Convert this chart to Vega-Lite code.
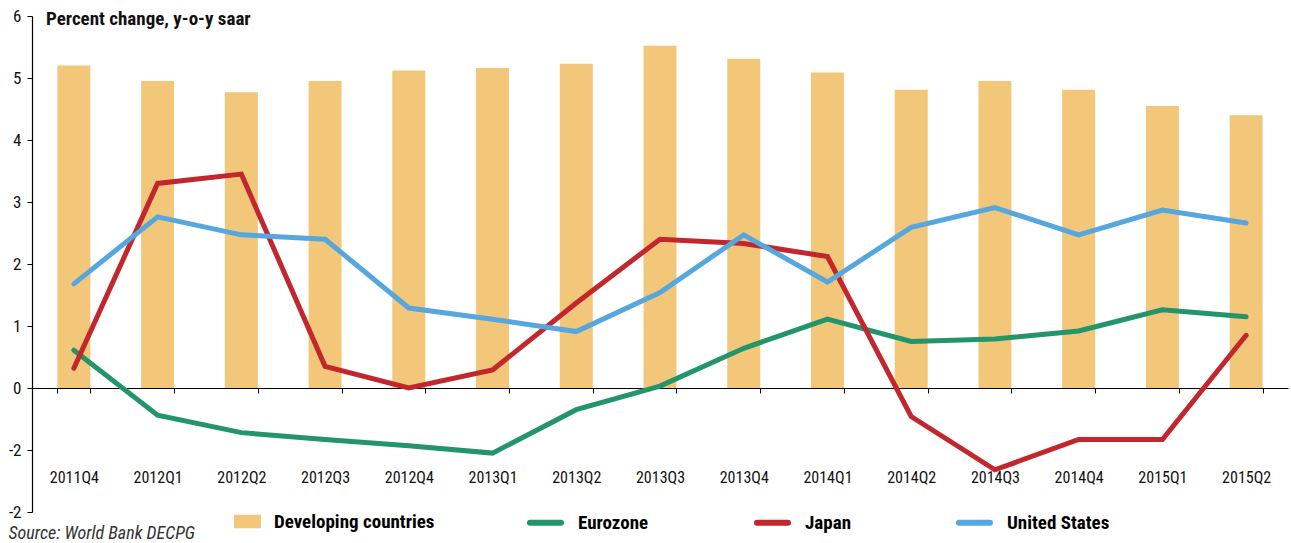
{
  "$schema": "https://vega.github.io/schema/vega-lite/v6.json",
  "autosize": {"type": "none"},
  "width": 1256,
  "height": 496,
  "padding": {"left": 32, "top": 16, "right": 3, "bottom": 31},
  "background": "white",
  "config": {
    "font": "Roboto Condensed, DejaVu Sans Condensed, Open Sans Condensed, Noto Sans Condensed, Roboto, sans-serif",
    "view": {"stroke": null}
  },
  "title": {
    "text": "Percent change, y-o-y saar",
    "anchor": "start",
    "frame": "group",
    "orient": "top",
    "offset": -37,
    "baseline": "alphabetic",
    "dx": 14,
    "fontSize": 19,
    "fontWeight": "bold",
    "color": "#111111"
  },
  "datasets": {
    "bars": [
      {"q": "2011Q4", "series": "Developing countries", "value": 5.20},
      {"q": "2012Q1", "series": "Developing countries", "value": 4.95},
      {"q": "2012Q2", "series": "Developing countries", "value": 4.77},
      {"q": "2012Q3", "series": "Developing countries", "value": 4.95},
      {"q": "2012Q4", "series": "Developing countries", "value": 5.12},
      {"q": "2013Q1", "series": "Developing countries", "value": 5.16},
      {"q": "2013Q2", "series": "Developing countries", "value": 5.23},
      {"q": "2013Q3", "series": "Developing countries", "value": 5.52},
      {"q": "2013Q4", "series": "Developing countries", "value": 5.31},
      {"q": "2014Q1", "series": "Developing countries", "value": 5.09},
      {"q": "2014Q2", "series": "Developing countries", "value": 4.81},
      {"q": "2014Q3", "series": "Developing countries", "value": 4.95},
      {"q": "2014Q4", "series": "Developing countries", "value": 4.81},
      {"q": "2015Q1", "series": "Developing countries", "value": 4.55},
      {"q": "2015Q2", "series": "Developing countries", "value": 4.40}
    ],
    "lines": [
      {"q": "2011Q4", "series": "Eurozone", "value": 0.61},
      {"q": "2012Q1", "series": "Eurozone", "value": -0.44},
      {"q": "2012Q2", "series": "Eurozone", "value": -0.72},
      {"q": "2012Q3", "series": "Eurozone", "value": -0.83},
      {"q": "2012Q4", "series": "Eurozone", "value": -0.93},
      {"q": "2013Q1", "series": "Eurozone", "value": -1.05},
      {"q": "2013Q2", "series": "Eurozone", "value": -0.35},
      {"q": "2013Q3", "series": "Eurozone", "value": 0.03},
      {"q": "2013Q4", "series": "Eurozone", "value": 0.64},
      {"q": "2014Q1", "series": "Eurozone", "value": 1.11},
      {"q": "2014Q2", "series": "Eurozone", "value": 0.75},
      {"q": "2014Q3", "series": "Eurozone", "value": 0.79},
      {"q": "2014Q4", "series": "Eurozone", "value": 0.92},
      {"q": "2015Q1", "series": "Eurozone", "value": 1.26},
      {"q": "2015Q2", "series": "Eurozone", "value": 1.15},
      {"q": "2011Q4", "series": "Japan", "value": 0.32},
      {"q": "2012Q1", "series": "Japan", "value": 3.30},
      {"q": "2012Q2", "series": "Japan", "value": 3.45},
      {"q": "2012Q3", "series": "Japan", "value": 0.35},
      {"q": "2012Q4", "series": "Japan", "value": 0.0},
      {"q": "2013Q1", "series": "Japan", "value": 0.29},
      {"q": "2013Q2", "series": "Japan", "value": 1.37},
      {"q": "2013Q3", "series": "Japan", "value": 2.40},
      {"q": "2013Q4", "series": "Japan", "value": 2.33},
      {"q": "2014Q1", "series": "Japan", "value": 2.12},
      {"q": "2014Q2", "series": "Japan", "value": -0.46},
      {"q": "2014Q3", "series": "Japan", "value": -1.32},
      {"q": "2014Q4", "series": "Japan", "value": -0.83},
      {"q": "2015Q1", "series": "Japan", "value": -0.83},
      {"q": "2015Q2", "series": "Japan", "value": 0.85},
      {"q": "2011Q4", "series": "United States", "value": 1.68},
      {"q": "2012Q1", "series": "United States", "value": 2.76},
      {"q": "2012Q2", "series": "United States", "value": 2.47},
      {"q": "2012Q3", "series": "United States", "value": 2.40},
      {"q": "2012Q4", "series": "United States", "value": 1.29},
      {"q": "2013Q1", "series": "United States", "value": 1.11},
      {"q": "2013Q2", "series": "United States", "value": 0.91},
      {"q": "2013Q3", "series": "United States", "value": 1.54},
      {"q": "2013Q4", "series": "United States", "value": 2.47},
      {"q": "2014Q1", "series": "United States", "value": 1.71},
      {"q": "2014Q2", "series": "United States", "value": 2.59},
      {"q": "2014Q3", "series": "United States", "value": 2.91},
      {"q": "2014Q4", "series": "United States", "value": 2.47},
      {"q": "2015Q1", "series": "United States", "value": 2.87},
      {"q": "2015Q2", "series": "United States", "value": 2.66}
    ]
  },
  "encoding": {
    "x": {
      "field": "q",
      "type": "ordinal",
      "scale": {"paddingInner": 0.606, "paddingOuter": 0.303},
      "axis": {
        "orient": "bottom",
        "offset": -124,
        "domainColor": "#000000",
        "domainWidth": 1.2,
        "ticks": true,
        "tickBand": "extent",
        "tickColor": "#000000",
        "tickSize": 5,
        "tickWidth": 1,
        "labelAngle": 0,
        "labelPadding": 76,
        "labelFontSize": 16,
        "labelColor": "#111111",
        "grid": false,
        "title": "Source: World Bank DECPG",
        "titleX": -24,
        "titleY": 150,
        "titleAlign": "left",
        "titleAnchor": "start",
        "titleBaseline": "alphabetic",
        "titleFontStyle": "italic",
        "titleFontWeight": "normal",
        "titleFontSize": 18,
        "titleColor": "#333333"
      }
    },
    "y": {
      "field": "value",
      "type": "quantitative",
      "scale": {"domain": [-2, 6], "nice": false, "zero": false},
      "axis": {
        "values": [-2, -1, 0, 1, 2, 3, 4, 5, 6],
        "labelExpr": "datum.value < 0 ? '-2' : datum.label",
        "domainColor": "#000000",
        "domainWidth": 1.2,
        "tickColor": "#000000",
        "tickSize": 5,
        "labelPadding": 6,
        "labelFontSize": 17,
        "labelColor": "#111111",
        "grid": false,
        "title": null
      }
    }
  },
  "layer": [
    {
      "data": {"name": "bars"},
      "mark": {"type": "bar"},
      "encoding": {
        "fill": {
          "field": "series",
          "type": "nominal",
          "scale": {"domain": ["Developing countries"], "range": ["#F2C779"]},
          "legend": {
            "orient": "none",
            "legendX": 202,
            "legendY": 492,
            "title": null,
            "symbolType": "M-1,-0.5H1V0.5H-1Z",
            "symbolSize": 729,
            "labelFontSize": 19,
            "labelFontWeight": "bold",
            "labelColor": "#000000",
            "labelOffset": 13,
            "labelLimit": 400,
            "padding": 0,
            "symbolOpacity": 1,
            "symbolStrokeWidth": 0,
            "encode": {"symbols": {"update": {"fill": {"value": "#FDE8BA"}}}}
          }
        }
      }
    },
    {
      "data": {"name": "lines"},
      "mark": {"type": "line", "strokeWidth": 5, "strokeCap": "round", "strokeJoin": "miter"},
      "encoding": {
        "stroke": {
          "field": "series",
          "type": "nominal",
          "scale": {"domain": ["Eurozone", "Japan", "United States"], "range": ["#22956B", "#C1272D", "#56A7DE"]},
          "legend": {
            "orient": "none",
            "legendX": 495,
            "legendY": 488,
            "direction": "horizontal",
            "title": null,
            "symbolType": "stroke",
            "symbolSize": 961,
            "symbolStrokeWidth": 6,
            "labelFontSize": 19,
            "labelFontWeight": "bold",
            "labelColor": "#000000",
            "labelOffset": 14,
            "labelLimit": 400,
            "columnPadding": 96,
            "padding": 0,
            "encode": {"symbols": {"update": {"strokeCap": {"value": "round"}}}}
          }
        }
      }
    }
  ]
}
